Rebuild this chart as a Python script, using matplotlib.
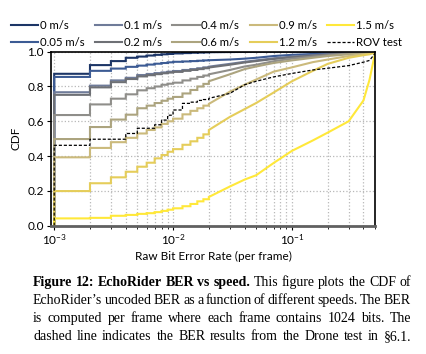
import numpy as np
import matplotlib
matplotlib.use("Agg")
import matplotlib.pyplot as plt
from matplotlib.ticker import LogLocator, NullFormatter, FixedLocator

# BER values (per frame); the first n_step points are drawn as steps
ber = [0.001, 0.002, 0.003, 0.004, 0.005, 0.006, 0.007, 0.008, 0.009, 0.010,
       0.012, 0.014, 0.016, 0.018, 0.020,
       0.03, 0.04, 0.05, 0.07, 0.1, 0.15, 0.2, 0.3, 0.4, 0.45, 0.5]
n_step = 15

labels = ["0 m/s", "0.05 m/s", "0.1 m/s", "0.2 m/s", "0.4 m/s",
          "0.6 m/s", "0.9 m/s", "1.2 m/s", "1.5 m/s"]

cdf_0   = [.873,.923,.946,.965,.972,.978,.982,.985,.987,.990, .992,.994,.995,.996,.997,
           .998,.999,1.0,1.0,1.0,1.0,1.0,1.0,1.0,1.0,1.0]
cdf_005 = [.855,.890,.903,.913,.920,.926,.931,.935,.939,.942, .944,.946,.948,.950,.951,
           .955,.960,.965,.975,.982,.987,.990,.995,.997,.998,1.0]
cdf_01  = [.767,.805,.835,.850,.866,.872,.877,.881,.885,.889, .895,.900,.905,.910,.914,
           .930,.942,.950,.962,.972,.980,.986,.992,.996,.998,1.0]
cdf_02  = [.752,.795,.825,.843,.858,.865,.871,.876,.880,.884, .890,.895,.900,.905,.909,
           .925,.938,.946,.958,.968,.977,.983,.990,.995,.997,1.0]
cdf_04  = [.636,.697,.730,.755,.778,.790,.800,.810,.816,.822, .835,.845,.855,.863,.870,
           .895,.915,.925,.945,.960,.972,.980,.990,.995,.997,1.0]
cdf_06  = [.498,.567,.610,.638,.675,.690,.705,.718,.730,.740, .760,.780,.800,.815,.830,
           .870,.900,.915,.935,.950,.965,.975,.985,.993,.996,1.0]
cdf_09  = [.393,.447,.480,.505,.530,.550,.565,.585,.600,.615, .640,.660,.675,.690,.700,
           .770,.810,.840,.885,.910,.940,.955,.975,.985,.990,1.0]
cdf_12  = [.199,.244,.278,.310,.339,.362,.387,.406,.425,.440, .465,.485,.505,.525,.550,
           .625,.670,.705,.765,.830,.890,.930,.965,.980,.985,.995]
cdf_15  = [.042,.045,.057,.062,.068,.072,.078,.085,.092,.100, .112,.125,.140,.152,.165,
           .225,.265,.290,.360,.430,.490,.535,.600,.720,.840,.990]
cdf_rov = [.462,.497,.497,.530,.560,.560,.580,.607,.635,.665, .703,.710,.720,.725,.732,
           .760,.810,.830,.855,.875,.895,.905,.920,.940,.950,.990]

curves = [cdf_0, cdf_005, cdf_01, cdf_02, cdf_04, cdf_06, cdf_09, cdf_12, cdf_15]
colors = ["#1c3566", "#3c5b94", "#6f7b99", "#6e7075", "#8f8e8a",
          "#aca47f", "#cbba7c", "#e5cd5a", "#ffe83a"]

caption = ["Figure 12: EchoRider BER vs speed. This figure plots the CDF of",
           "EchoRider\u2019s uncoded BER as a function of different speeds. The BER",
           "is computed per frame where each frame contains 1024 bits. The",
           "dashed line indicates the BER results from the Drone test in \u00a76.1."]
n_bold = 6


def step_line(x, y, ns):
    xs = [x[0]]
    ys = [0.0]
    for i in range(len(x)):
        xs.append(x[i]); ys.append(y[i])
        if i < ns - 1:
            xs.append(x[i + 1]); ys.append(y[i])
    return xs, ys


plt.rcParams["font.family"] = ["Lato", "DejaVu Sans"]
plt.rcParams["mathtext.default"] = "regular"

fig = plt.figure(figsize=(4.26, 3.54), dpi=100)
W, H = 426.0, 354.0
ax = fig.add_axes([51 / W, 1 - 225.7 / H, 324 / W, 174 / H])

for c, col, lab in zip(curves, colors, labels):
    xs, ys = step_line(ber, c, n_step)
    ax.plot(xs, ys, color=col, lw=1.5, label=lab, solid_joinstyle="miter")
xs, ys = step_line(ber, cdf_rov, n_step)
ax.plot(xs, ys, color="black", lw=0.9, ls=(0, (2.5, 1.5)), label="ROV test")

ax.set_xscale("log")
ax.set_xlim(0.94e-3, 0.5)
ax.set_ylim(0, 1.0)
ax.set_yticks([0, 0.2, 0.4, 0.6, 0.8, 1.0])
ax.set_yticklabels(["0.0", "0.2", "0.4", "0.6", "0.8", "1.0"])
ax.xaxis.set_major_locator(FixedLocator([1e-3, 1e-2, 1e-1]))
ax.xaxis.set_minor_locator(LogLocator(base=10, subs=np.arange(2, 10)))
ax.xaxis.set_minor_formatter(NullFormatter())
ax.tick_params(labelsize=8.5, length=3, width=0.8, pad=2)
ax.tick_params(which="minor", length=2, width=0.6)
ax.grid(True, which="both", axis="x", ls=":", lw=0.9, color="#b8b8b8")
ax.grid(True, which="major", axis="y", ls=":", lw=0.9, color="#b8b8b8")
ax.set_axisbelow(True)
for s in ["left", "top", "right"]:
    ax.spines[s].set_linewidth(1.2)
ax.spines["bottom"].set_color("#606060")
ax.spines["bottom"].set_linewidth(2)

ax.set_xlabel("Raw Bit Error Rate (per frame)", fontsize=8.5, labelpad=3)
ax.set_ylabel("CDF", fontsize=8.5, labelpad=4)

fig.legend(loc="upper left", bbox_to_anchor=(11 / W, 1 - 20 / H), ncol=5,
           frameon=False, fontsize=8.2, handlelength=2.4, handletextpad=0.15,
           columnspacing=0.9, labelspacing=0.55, borderpad=0, borderaxespad=0)

# caption, justified word by word
r = fig.canvas.get_renderer()
x0, x1 = 33.0, 411.0
base = [286, 304, 322, 340]
for li, line in enumerate(caption):
    words = line.split()
    texts = []
    for wi, w in enumerate(words):
        bold = (li == 0 and wi < n_bold)
        t = fig.text(0, 1 - base[li] / H, w, fontsize=10.0, va="baseline",
                     family="Liberation Serif", weight="bold" if bold else "normal")
        texts.append(t)
    widths = [t.get_window_extent(r).width for t in texts]
    gap = (x1 - x0 - sum(widths)) / (len(words) - 1)
    x = x0
    for t, w in zip(texts, widths):
        t.set_x(x / W)
        x += w + gap

fig.savefig("out.png", dpi=100)
